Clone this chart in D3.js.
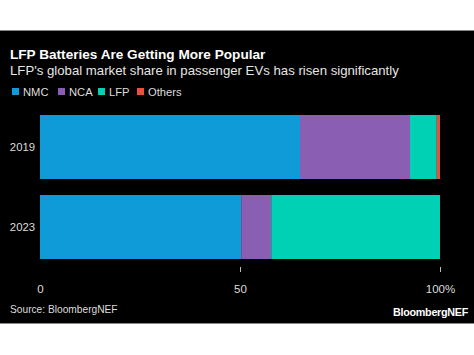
<!DOCTYPE html>
<html><head><meta charset="utf-8">
<script src="https://cdn.jsdelivr.net/npm/d3@7"></script>
<style>body{margin:0;background:#fff;}svg{display:block;font-family:"Liberation Sans",Arial,sans-serif;}</style>
</head><body>
<svg id="c" width="474" height="355"></svg>
<script>
const categories = ["2019", "2023"];
const seriesNames = ["NMC", "NCA", "LFP", "Others"];
const NMC = [65, 50.3];
const NCA = [27.5, 7.5];
const LFP = [6.7, 42.2];
const Others = [0.8, 0];
const tickValues = [0, 50, 100];
const colors = ["#0f9bd7", "#8a5fb3", "#00d1b5", "#e8523c"];

const svg = d3.select("#c");
svg.append("rect").attr("x",0).attr("y",30).attr("width",474).attr("height",294).attr("fill","#000");
svg.append("line").attr("x1",0).attr("x2",474).attr("y1",30.5).attr("y2",30.5).attr("stroke","#888").attr("stroke-width",1);
svg.append("line").attr("x1",0).attr("x2",474).attr("y1",323.5).attr("y2",323.5).attr("stroke","#888").attr("stroke-width",1);

svg.append("text").attr("x",10).attr("y",59).attr("fill","#fff").attr("font-size",13.6).attr("font-weight","bold").text("LFP Batteries Are Getting More Popular");
svg.append("text").attr("x",10).attr("y",75).attr("fill","#e6e6e6").attr("font-size",13.2).text("LFP's global market share in passenger EVs has risen significantly");

const legX = [12, 58, 98, 137];
seriesNames.forEach((n,i)=>{
  svg.append("rect").attr("x",legX[i]).attr("y",88).attr("width",7).attr("height",7).attr("fill",colors[i]);
  svg.append("text").attr("x",legX[i]+11).attr("y",95.5).attr("fill","#ddd").attr("font-size",11.2).text(n);
});

const x = d3.scaleLinear().domain([0,100]).range([40,440]);
const y = d3.scaleBand().domain(categories).range([107,267]).paddingInner(0.2).paddingOuter(0.1);

const table = categories.map((c,i)=>({cat:c, NMC:NMC[i], NCA:NCA[i], LFP:LFP[i], Others:Others[i]}));
const stack = d3.stack().keys(seriesNames)(table);

stack.forEach((layer,si)=>{
  svg.append("g").selectAll("rect").data(layer).join("rect")
    .attr("x",d=>x(d[0])).attr("width",d=>Math.max(0,x(d[1])-x(d[0])))
    .attr("y",d=>y(d.data.cat)).attr("height",y.bandwidth())
    .attr("fill",colors[si]);
});

categories.forEach(c=>{
  svg.append("text").attr("x",35).attr("y",y(c)+y.bandwidth()/2+4).attr("text-anchor","end")
    .attr("fill","#ddd").attr("font-size",11.3).text(c);
});

const axis = d3.axisBottom(x).tickValues(tickValues).tickSize(5).tickPadding(13)
  .tickFormat(d=>d===100?"100%":d);
const ag = svg.append("g").attr("transform","translate(0,267)").call(axis);
ag.select(".domain").remove();
ag.selectAll(".tick line").attr("stroke","#bbb").attr("opacity",(d)=>d===0?0:1);
ag.selectAll(".tick text").attr("fill","#ddd").attr("font-size",11.5).attr("font-family","Liberation Sans, Arial, sans-serif");

svg.append("text").attr("x",10).attr("y",313).attr("fill","#ddd").attr("font-size",10.2).text("Source: BloombergNEF");
svg.append("text").attr("x",468).attr("y",316).attr("text-anchor","end").attr("fill","#fff").attr("font-size",10.8).attr("font-weight","bold").attr("letter-spacing",-0.3).text("BloombergNEF");
</script>
</body></html>
